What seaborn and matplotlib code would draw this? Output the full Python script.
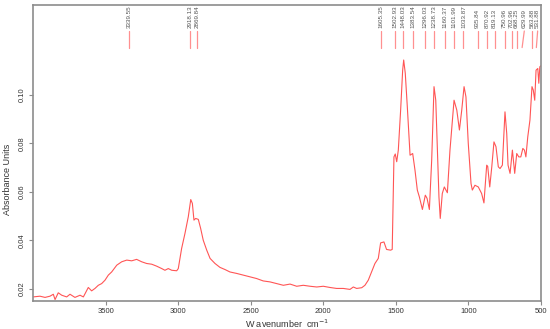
import numpy as np
import pandas as pd
import seaborn as sns
import matplotlib.pyplot as plt
import matplotlib.transforms as mtransforms

# IR spectrum (wavenumber cm-1, absorbance)
wavenumber = [3998, 3952, 3917, 3883, 3860, 3848, 3826, 3802, 3768, 3745, 3711, 3676, 3653,
              3619, 3596, 3573, 3550, 3527, 3504, 3481, 3458, 3423, 3389, 3354, 3320, 3286,
              3251, 3217, 3182, 3148, 3113, 3091, 3068, 3044, 3010, 2999, 2976, 2953, 2930,
              2913, 2902, 2891, 2879, 2861, 2845, 2827, 2803, 2780, 2746, 2712, 2677, 2643,
              2597, 2551, 2505, 2460, 2414, 2367, 2321, 2275, 2229, 2183, 2138, 2091, 2045,
              2000, 1954, 1908, 1862, 1816, 1793, 1770, 1735, 1713, 1690, 1667, 1644, 1621,
              1605, 1582, 1564, 1536, 1525, 1513, 1504, 1494, 1483, 1467, 1453, 1446, 1435,
              1421, 1402, 1384, 1368, 1352, 1338, 1317, 1297, 1285, 1269, 1253, 1237, 1225,
              1214, 1203, 1194, 1180, 1166, 1145, 1127, 1099, 1080, 1062, 1046, 1030, 1017,
              1001, 982, 973, 955, 932, 909, 893, 874, 867, 853, 839, 824, 810, 794, 782, 766,
              748, 736, 727, 713, 697, 681, 667, 653, 639, 625, 614, 604, 591, 576, 562, 553,
              543, 534, 522, 515, 508, 501]
absorbance = [0.0166, 0.0169, 0.0164, 0.0169, 0.0177, 0.0155, 0.0183, 0.0173, 0.0166, 0.0177,
              0.0164, 0.0173, 0.0166, 0.0205, 0.0191, 0.0201, 0.0214, 0.0221, 0.0235, 0.0256,
              0.0269, 0.0297, 0.0311, 0.0318, 0.0315, 0.0321, 0.0311, 0.0304, 0.0301, 0.0293,
              0.0283, 0.0276, 0.0283, 0.0276, 0.0274, 0.0283, 0.0366, 0.0428, 0.0497, 0.0568,
              0.0552, 0.0483, 0.0490, 0.0486, 0.0449, 0.0400, 0.0359, 0.0325, 0.0304, 0.0288,
              0.0279, 0.0269, 0.0263, 0.0256, 0.0249, 0.0242, 0.0232, 0.0228, 0.0221, 0.0214,
              0.0219, 0.0210, 0.0214, 0.0210, 0.0207, 0.0210, 0.0205, 0.0201, 0.0201, 0.0197,
              0.0207, 0.0201, 0.0204, 0.0214, 0.0235, 0.0269, 0.0304, 0.0325, 0.0389, 0.0393,
              0.0362, 0.0359, 0.0362, 0.0744, 0.0756, 0.0724, 0.0772, 0.0937, 0.1102, 0.1144,
              0.1089, 0.0951, 0.0751, 0.0758, 0.0689, 0.0607, 0.0579, 0.0527, 0.0586, 0.0573,
              0.0527, 0.0731, 0.1034, 0.0978, 0.0772, 0.0579, 0.0490, 0.0593, 0.0620, 0.0596,
              0.0772, 0.0978, 0.0937, 0.0855, 0.0937, 0.1034, 0.0992, 0.0800, 0.0634, 0.0607,
              0.0627, 0.0620, 0.0593, 0.0554, 0.0710, 0.0705, 0.0620, 0.0703, 0.0806, 0.0786,
              0.0703, 0.0696, 0.0710, 0.0930, 0.0841, 0.0710, 0.0676, 0.0772, 0.0676, 0.0758,
              0.0744, 0.0744, 0.0779, 0.0772, 0.0744, 0.0827, 0.0896, 0.1034, 0.1020, 0.0978,
              0.1102, 0.1109, 0.1048, 0.1116, 0.1120]

peaks = [3339.55, 2918.13, 2869.84, 1605.35, 1502.93, 1448.03, 1383.54, 1296.03, 1238.73,
         1160.37, 1101.99, 1033.87, 935.84, 870.92, 819.13, 750.96, 702.96, 668.25, 629.99,
         563.88, 531.88]
# where each label sits (a couple are nudged apart in the original)
label_pos = [3339.55, 2918.13, 2869.84, 1605.35, 1502.93, 1448.03, 1383.54, 1296.03, 1238.73,
             1160.37, 1101.99, 1033.87, 935.84, 870.92, 819.13, 750.96, 702.96, 668.25, 615,
             563.88, 523]

df = pd.DataFrame({'wavenumber': wavenumber, 'absorbance': absorbance})

sns.set_style('white')
plt.rcParams['font.family'] = ['Liberation Sans', 'DejaVu Sans']

fig = plt.figure(figsize=(5.5, 3.29), dpi=100)
ax = fig.add_axes([0.06, 0.085, 0.9236, 0.899])

sns.lineplot(data=df, x='wavenumber', y='absorbance', color='#ff5555', linewidth=0.8, ax=ax)

ax.set_xlim(4000, 500)
ax.set_ylim(0.0149, 0.137)
ax.set_xticks([3500, 3000, 2500, 2000, 1500, 1000, 500])
ax.set_yticks([0.02, 0.04, 0.06, 0.08, 0.10])
ax.set_yticklabels(['0.02', '0.04', '0.06', '0.08', '0.10'], rotation=90, va='center')

for s in ax.spines.values():
    s.set_color('#8c8c8c')
    s.set_linewidth(1.2)
ax.tick_params(axis='both', direction='out', length=3, width=0.8, color='#8c8c8c',
               labelsize=5.5, labelcolor='#333333', pad=2, bottom=True, left=True)

ax.set_xlabel('W avenumber  cm$^{-1}$', fontsize=6.5, color='#333333', labelpad=2)
ax.set_ylabel('Absorbance Units', fontsize=6.5, color='#333333')
ax.yaxis.set_label_coords(-0.042, 0.413)

# peak markers along the top
trans = mtransforms.blended_transform_factory(ax.transData, ax.transAxes)
for p, lp in zip(peaks, label_pos):
    ax.plot([p, lp], [0.857, 0.913], transform=trans, color='#ff9090', linewidth=0.9,
            clip_on=False)
    ax.text(lp, 0.922, f'{p:.2f}', transform=trans, rotation=90, ha='center', va='bottom',
            fontsize=4.5, color='#555555')

plt.savefig('out.png', dpi=100)
